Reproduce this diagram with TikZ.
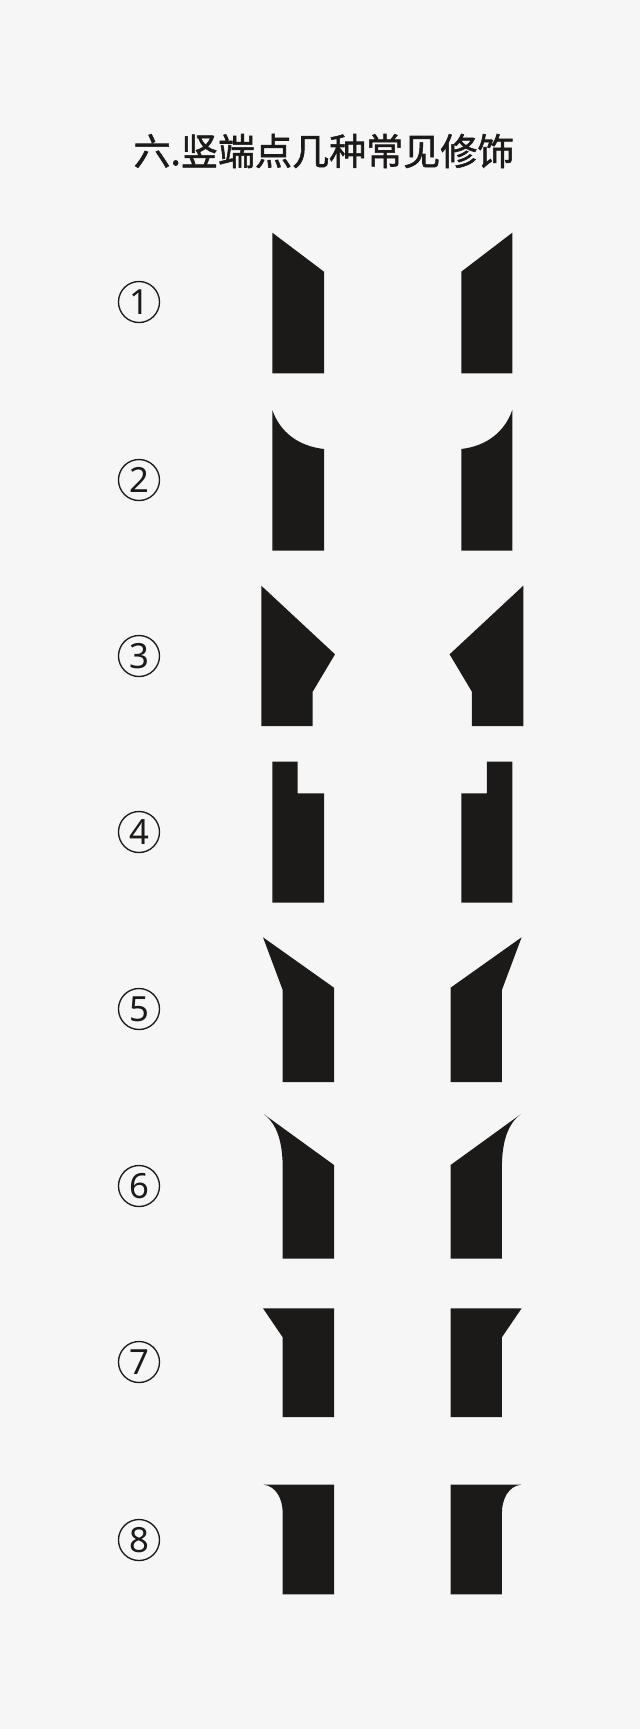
\documentclass[tikz,border=0pt]{standalone}
\usepackage{fontspec}
\newfontfamily\cjk{Noto Sans CJK SC}[FakeBold=1.5]
\newfontfamily\numfont{Noto Sans}
\definecolor{bg}{HTML}{F7F6F6}
\definecolor{ink}{HTML}{1C1A18}
\begin{document}
\begin{tikzpicture}[x=0.75pt,y=-0.75pt,
  shp/.style={fill=ink,draw=none},
  num/.style={circle,draw=ink,line width=1pt,minimum size=30.75pt,inner sep=0pt,text=ink,font=\numfont\fontsize{26}{26}\selectfont},
  ttl/.style={text=ink,font=\cjk\fontsize{27.8}{28}\selectfont}]
\fill[bg] (0,0) rectangle (640,1729);
\useasboundingbox (0,0) rectangle (640,1729);
\node[ttl] (title) at (324,151) {六.竖端点几种常见修饰};
% numbers
\node[num] (n1) at (139,302) {1};
\node[num] (n2) at (139,480) {2};
\node[num] (n3) at (139,656) {3};
\node[num] (n4) at (139,832) {4};
\node[num] (n5) at (139,1009) {5};
\node[num] (n6) at (139,1186) {6};
\node[num] (n7) at (139,1362) {7};
\node[num] (n8) at (139,1540) {8};
% row 1
\fill[shp] (272.3,232.7) -- (324,271.7) -- (324,373.3) -- (272.3,373.3) -- cycle;
\fill[shp] (512.3,232.7) -- (461.3,271.7) -- (461.3,373.3) -- (512.3,373.3) -- cycle;
% row 2
\fill[shp] (272.3,410) .. controls (280,432) and (298,446) .. (324,449) -- (324,550.7) -- (272.3,550.7) -- cycle;
\fill[shp] (512.3,410) .. controls (504.6,432) and (486.6,446) .. (461.3,449) -- (461.3,550.7) -- (512.3,550.7) -- cycle;
% row 3
\fill[shp] (261.3,585.7) -- (335,654.3) -- (312.7,691.7) -- (312.7,726) -- (261.3,726) -- cycle;
\fill[shp] (523.3,585.7) -- (449.6,654.3) -- (471.9,691.7) -- (471.9,726) -- (523.3,726) -- cycle;
% row 4
\fill[shp] (272.3,761.7) -- (297.7,761.7) -- (297.7,793.3) -- (324,793.3) -- (324,902.7) -- (272.3,902.7) -- cycle;
\fill[shp] (512.3,761.7) -- (486.9,761.7) -- (486.9,793.3) -- (461.3,793.3) -- (461.3,902.7) -- (512.3,902.7) -- cycle;
% row 5
\fill[shp] (263,937.3) -- (334,987.7) -- (334,1082) -- (282.7,1082) -- (282.7,990) -- cycle;
\fill[shp] (521.6,937.3) -- (450.6,987.7) -- (450.6,1082) -- (501.9,1082) -- (501.9,990) -- cycle;
% row 6
\fill[shp] (264,1114.3) -- (334,1165) -- (334,1258.7) -- (282.7,1258.7) -- (282.7,1168) .. controls (282.7,1142) and (277,1124) .. (264,1114.3) -- cycle;
\fill[shp] (520.6,1114.3) -- (450.6,1165) -- (450.6,1258.7) -- (501.9,1258.7) -- (501.9,1168) .. controls (501.9,1142) and (507.6,1124) .. (520.6,1114.3) -- cycle;
% row 7
\fill[shp] (263,1308.3) -- (334,1308.3) -- (334,1417) -- (282.7,1417) -- (282.7,1337.3) -- cycle;
\fill[shp] (521.6,1308.3) -- (450.6,1308.3) -- (450.6,1417) -- (501.9,1417) -- (501.9,1337.3) -- cycle;
% row 8
\fill[shp] (263.7,1484.7) -- (334,1484.7) -- (334,1594.3) -- (282.7,1594.3) -- (282.7,1513) .. controls (282.7,1499) and (276,1486) .. (263.7,1484.7) -- cycle;
\fill[shp] (520.9,1484.7) -- (450.6,1484.7) -- (450.6,1594.3) -- (501.9,1594.3) -- (501.9,1513) .. controls (501.9,1499) and (508.6,1486) .. (520.9,1484.7) -- cycle;
\end{tikzpicture}
\end{document}
